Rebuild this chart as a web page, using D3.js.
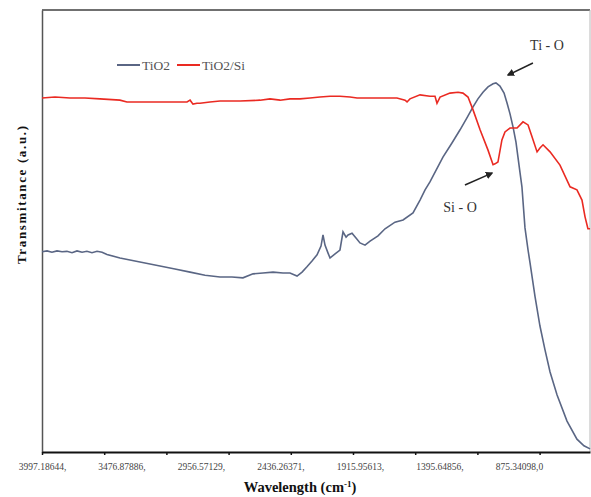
<!DOCTYPE html>
<html>
<head>
<meta charset="utf-8">
<script src="https://cdn.jsdelivr.net/npm/d3@7"></script>
<style>
  body { margin: 0; background: #fff; }
  svg { display: block; font-family: "Liberation Serif", "DejaVu Serif", serif; }
</style>
</head>
<body>
<div id="chart"></div>
<script>
// FTIR spectra: TiO2 vs TiO2/Si

// wavenumber (cm-1) and transmittance (a.u.)
const tio2Wn = [3997, 3964, 3932, 3899, 3866, 3834, 3801, 3768, 3735, 3703, 3670, 3637, 3604, 3572,
  3487, 3356, 3225, 3127, 3028, 2930, 2832, 2754, 2682, 2616, 2551, 2485, 2420, 2374, 2328, 2295,
  2263, 2230, 2197, 2171, 2158, 2145, 2125, 2112, 2079, 2047, 2027, 2007, 1994, 1968, 1942, 1916,
  1883, 1850, 1798, 1752, 1687, 1634, 1569, 1523, 1490, 1458, 1373, 1314, 1261, 1216, 1176, 1144,
  1111, 1078, 1045, 1026, 1000, 973, 954, 934, 914, 895, 882, 869, 856, 836, 816, 803, 770, 738,
  705, 672, 626, 561, 496, 450, 410];
const tio2T = [45.3, 45.5, 45.2, 45.5, 45.3, 45.4, 45.1, 45.5, 45.2, 45.4, 45.1, 45.4, 45.2, 44.7,
  43.9, 43.0, 42.1, 41.4, 40.7, 40.0, 39.6, 39.6, 39.4, 40.3, 40.5, 40.7, 40.5, 40.5, 39.8, 40.7,
  41.9, 43.2, 44.6, 46.6, 49.1, 46.8, 45.0, 43.9, 44.8, 45.7, 49.8, 48.6, 49.1, 49.5, 48.4, 47.3,
  46.8, 47.7, 48.9, 50.5, 52.0, 52.5, 54.1, 57.0, 59.3, 61.1, 66.7, 69.9, 72.9, 75.6, 78.1, 79.9,
  81.4, 82.6, 83.3, 83.5, 82.8, 81.2, 79.0, 76.5, 73.5, 70.1, 66.7, 63.3, 60.0, 50.7, 45.7, 42.8,
  35.1, 28.5, 23.1, 18.1, 12.9, 7.0, 2.9, 1.4, 0.7];

const tio2SiWn = [3997, 3912, 3814, 3716, 3618, 3487, 3441, 3290, 3159, 3048, 3028, 3009, 2983, 2963,
  2898, 2832, 2701, 2570, 2505, 2439, 2374, 2309, 2243, 2178, 2112, 2047, 1981, 1935, 1850, 1739,
  1674, 1621, 1608, 1589, 1523, 1458, 1425, 1412, 1392, 1327, 1274, 1242, 1209, 1176, 1130, 1078,
  1045, 1032, 1013, 987, 967, 934, 888, 849, 816, 790, 757, 738, 718, 672, 607, 541, 496, 463, 443,
  424, 410];
const tio2SiT = [80.1, 80.3, 80.1, 80.1, 79.9, 79.6, 79.2, 79.2, 79.2, 79.2, 79.6, 78.7, 78.9, 78.9,
  79.2, 79.4, 79.4, 79.6, 79.9, 79.6, 79.9, 79.9, 80.1, 80.3, 80.5, 80.5, 80.3, 80.1, 80.1, 80.1,
  80.1, 79.6, 79.2, 79.9, 80.8, 80.5, 80.5, 78.9, 80.3, 81.2, 81.4, 81.2, 80.3, 77.4, 72.9, 68.3,
  65.0, 65.2, 65.6, 70.6, 72.4, 73.3, 73.3, 74.7, 74.0, 71.3, 67.9, 68.8, 69.5, 67.9, 64.9, 60.0,
  59.3, 57.0, 53.2, 50.5, 50.5];

const seriesNames = ["TiO2", "TiO2/Si"];

// category style tick labels of the original axis
const xLabels = ["3997.18644,", "3476.87886,", "2956.57129,", "2436.26371,", "1915.95613,",
  "1395.64856,", "875.34098,0"];
const xLabelValues = [3997.18644, 3476.87886, 2956.57129, 2436.26371, 1915.95613, 1395.64856, 875.34098];
const xTickValues = [3997.19, 3590.1, 3183.0, 2775.9, 2368.8, 1961.7, 1554.6, 1147.5, 740.4];

// annotation arrows: [label, labelWn, labelT, tailWn, tailT, tipWn, tipT]
const notes = [
  ["Ti - O", 692, 91.0, 784, 88.0, 947, 85.3],
  ["Si - O", 1261, 54.3, 1229, 60.4, 1052, 63.1]
];

const [W, H] = [591, 497];
const margin = {top: 10, right: 1, bottom: 45, left: 42};
const [blueColor, redColor] = ["#5a6684", "#ea2a22"];

const svg = d3.select("#chart").append("svg")
  .attr("width", W)
  .attr("height", H);

const xScale = d3.scaleLinear()
  .domain([3997.19, 410.5])
  .range([margin.left, W - margin.right]);

const yScale = d3.scaleLinear()
  .domain([0, 100])
  .range([H - margin.bottom, margin.top]);

svg.append("defs").append("marker")
  .attr("id", "arrow")
  .attr("viewBox", "0 0 10 10")
  .attr("refX", 8).attr("refY", 5)
  .attr("markerWidth", 5).attr("markerHeight", 5)
  .attr("orient", "auto")
  .append("path")
  .attr("d", "M0,0 L10,5 L0,10 z")
  .attr("fill", "#222");

// frame: top and right
svg.append("line")
  .attr("x1", margin.left).attr("x2", W - margin.right)
  .attr("y1", margin.top).attr("y2", margin.top)
  .attr("stroke", "#707070").attr("stroke-width", 2);
svg.append("line")
  .attr("x1", W - margin.right).attr("x2", W - margin.right)
  .attr("y1", margin.top).attr("y2", H - margin.bottom)
  .attr("stroke", "#b8b8b8").attr("stroke-width", 1);

// left axis, no ticks
svg.append("g")
  .attr("transform", `translate(${margin.left},0)`)
  .call(d3.axisLeft(yScale).tickValues([]).tickSizeOuter(0))
  .select(".domain").attr("stroke", "#555").attr("stroke-width", 1.5);

// bottom axis: tick marks
const xAxis = svg.append("g")
  .attr("transform", `translate(0,${H - margin.bottom})`)
  .call(d3.axisBottom(xScale).tickValues(xTickValues).tickFormat("").tickSize(3).tickSizeOuter(0));
xAxis.select(".domain").attr("stroke", "#111").attr("stroke-width", 2);
xAxis.selectAll(".tick line").attr("stroke", "#111").attr("stroke-width", 1.5);

// bottom axis: labels
const xLab = svg.append("g")
  .attr("transform", `translate(0,${H - margin.bottom})`)
  .call(d3.axisBottom(xScale).tickValues(xLabelValues)
    .tickFormat((d, i) => xLabels[i]).tickSize(0).tickPadding(11));
xLab.select(".domain").remove();
xLab.selectAll("text")
  .attr("font-family", "Liberation Serif, serif")
  .attr("font-size", 9.5)
  .attr("fill", "#444");

// lines
const line = d3.line()
  .x(d => xScale(d[0]))
  .y(d => yScale(d[1]));

const tio2Data = tio2Wn.map((w, i) => [w, tio2T[i]]);
const tio2SiData = tio2SiWn.map((w, i) => [w, tio2SiT[i]]);

svg.append("path")
  .datum(tio2Data)
  .attr("d", line)
  .attr("fill", "none")
  .attr("stroke", blueColor)
  .attr("stroke-width", 1.6);

svg.append("path")
  .datum(tio2SiData)
  .attr("d", line)
  .attr("fill", "none")
  .attr("stroke", redColor)
  .attr("stroke-width", 1.6);

// legend
const legend = svg.append("g").attr("transform", "translate(117,65)");
const legendX = [0, 60];
seriesNames.forEach((name, i) => {
  const g = legend.append("g").attr("transform", `translate(${legendX[i]},0)`);
  g.append("line")
    .attr("x1", 0).attr("x2", 23)
    .attr("stroke", i === 0 ? blueColor : redColor)
    .attr("stroke-width", 2);
  g.append("text")
    .attr("x", 25).attr("y", 4.5)
    .attr("font-size", 13.5)
    .attr("fill", "#555")
    .text(name);
});

// annotations
notes.forEach(n => {
  svg.append("line")
    .attr("x1", xScale(n[3])).attr("y1", yScale(n[4]))
    .attr("x2", xScale(n[5])).attr("y2", yScale(n[6]))
    .attr("stroke", "#222").attr("stroke-width", 1.5)
    .attr("marker-end", "url(#arrow)");
  svg.append("text")
    .attr("x", xScale(n[1])).attr("y", yScale(n[2]))
    .attr("text-anchor", "middle")
    .attr("font-size", 14)
    .attr("fill", "#333")
    .text(n[0]);
});

// axis titles
const xTitle = svg.append("text")
  .attr("x", 300).attr("y", 492)
  .attr("text-anchor", "middle")
  .attr("font-size", 14.5)
  .attr("font-weight", "bold")
  .attr("fill", "#111");
xTitle.append("tspan").text("Wavelength (cm");
xTitle.append("tspan").attr("dy", -5).attr("font-size", 9).text("-1");
xTitle.append("tspan").attr("dy", 5).text(")");

svg.append("text")
  .attr("transform", "translate(26,195) rotate(-90)")
  .attr("text-anchor", "middle")
  .attr("font-size", 13)
  .attr("font-weight", "bold")
  .attr("fill", "#111")
  .attr("textLength", 138)
  .attr("lengthAdjust", "spacing")
  .text("Transmitance (a.u.)");
</script>
</body>
</html>
